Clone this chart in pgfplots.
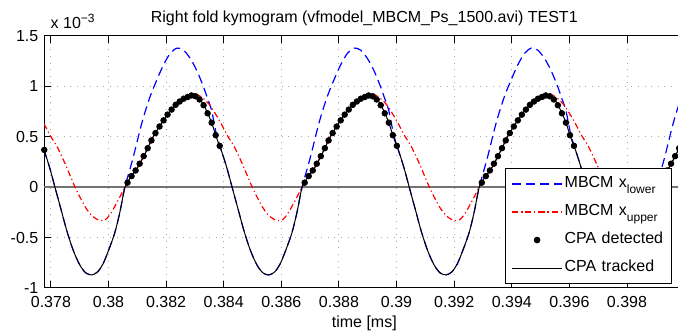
\documentclass[border=0pt]{standalone}
\usepackage{fontspec}
\setmainfont{Liberation Sans}
\usepackage{pgfplots}
\pgfplotsset{compat=1.18}
\newcommand{\ff}{\fontsize{8}{9.6}\selectfont}
\begin{document}
\ff
\begin{tikzpicture}
\begin{axis}[
  name=ax,
  scale only axis, width=320.3pt, height=126pt,
  at={(0,0)}, anchor=south west,
  xmin=0.37776, xmax=0.4, ymin=-1, ymax=1.5,
  xtick={0.378,0.38,0.382,0.384,0.386,0.388,0.39,0.392,0.394,0.396,0.398},
  ytick={-1,-0.5,0,0.5,1,1.5},
  scaled x ticks=false, scaled y ticks=false,
  /pgf/number format/assume math mode=true,
  x tick label style={/pgf/number format/.cd, fixed, precision=3, /tikz/.cd, anchor=base, yshift=-9.8pt},
  y tick label style={/pgf/number format/.cd, fixed, precision=1},
  tick label style={font=\ff},
  tick align=inside, major tick length=3.5pt,
  tick style={black, line width=0.5pt},
  grid=major,
  grid style={gray!70, line width=0.5pt, dash pattern=on 0.5pt off 2.8pt},
  axis line style={line width=0.5pt},
  title={Right fold kymogram (vfmodel\_MBCM\_Ps\_1500.avi) TEST1},
  every axis title/.style={at={(axis description cs:0.5,1)}, anchor=base, yshift=6.5pt, font=\ff},
  xlabel={time [ms]},
  every axis x label/.style={at={(axis description cs:0.5,0)}, anchor=base, yshift=-20pt, font=\ff},
  legend cell align=left,
  legend style={at={(0.7196,0.476)}, anchor=north west, draw=black, line width=0.5pt, fill=white,
    inner xsep=3pt, inner ysep=2.5pt, row sep=3.5pt, font=\ff,
    nodes={inner sep=1pt, text height=6pt, text depth=2.5pt, text width=49.6pt, align=left}},
  legend image code/.code={\draw[mark repeat=2, mark phase=2, #1] plot coordinates {(0pt,0pt) (12.5pt,0pt) (25pt,0pt)};},
]
\addplot[black!55, line width=0.75pt, forget plot] coordinates {(0.37776,0) (0.4,0)};

\addplot[blue, line width=0.6pt, dash pattern=on 4.5pt off 2.5pt, smooth] coordinates {
(0.37776,0.37) (0.37795,0.20) (0.37814,0.00) (0.37835,-0.22) (0.37856,-0.44) (0.37878,-0.63) (0.37900,-0.77) (0.37921,-0.85) (0.37942,-0.87) (0.37962,-0.84) (0.37981,-0.76) (0.38001,-0.62) (0.38022,-0.45) (0.38040,-0.24) (0.38057,0.00) (0.38086,0.30) (0.38115,0.63) (0.38142,0.88) (0.38167,1.06) (0.38192,1.22) (0.38215,1.33) (0.38238,1.38) (0.38260,1.36) (0.38283,1.28) (0.38306,1.16) (0.38329,1.00) (0.38345,0.87) (0.38358,0.76) (0.38375,0.52)
(0.38391,0.37) (0.38410,0.20) (0.38429,0.00) (0.38450,-0.22) (0.38471,-0.44) (0.38493,-0.63) (0.38515,-0.77) (0.38536,-0.85) (0.38557,-0.87) (0.38577,-0.84) (0.38596,-0.76) (0.38616,-0.62) (0.38637,-0.45) (0.38655,-0.24) (0.38672,0.00) (0.38701,0.30) (0.38730,0.63) (0.38757,0.88) (0.38782,1.06) (0.38807,1.22) (0.38830,1.33) (0.38853,1.38) (0.38875,1.36) (0.38898,1.28) (0.38921,1.16) (0.38944,1.00) (0.38960,0.87) (0.38973,0.76) (0.38990,0.52)
(0.39006,0.37) (0.39025,0.20) (0.39044,0.00) (0.39065,-0.22) (0.39086,-0.44) (0.39108,-0.63) (0.39130,-0.77) (0.39151,-0.85) (0.39172,-0.87) (0.39192,-0.84) (0.39211,-0.76) (0.39231,-0.62) (0.39252,-0.45) (0.39270,-0.24) (0.39287,0.00) (0.39316,0.30) (0.39345,0.63) (0.39372,0.88) (0.39397,1.06) (0.39422,1.22) (0.39445,1.33) (0.39468,1.38) (0.39490,1.36) (0.39513,1.28) (0.39536,1.16) (0.39559,1.00) (0.39575,0.87) (0.39588,0.76) (0.39605,0.52)
(0.39621,0.37) (0.39640,0.20) (0.39659,0.00) (0.39680,-0.22) (0.39701,-0.44) (0.39723,-0.63) (0.39745,-0.77) (0.39766,-0.85) (0.39787,-0.87) (0.39807,-0.84) (0.39826,-0.76) (0.39846,-0.62) (0.39867,-0.45) (0.39885,-0.24) (0.39902,0.00) (0.39931,0.30) (0.39960,0.63) (0.39987,0.88) (0.40012,1.06)
};
\addlegendentry{MBCM x\raisebox{-2.8pt}{\fontsize{6}{7}\selectfont lower}}

\addplot[red, line width=0.6pt, dash pattern=on 3pt off 1.5pt on 0.6pt off 1.5pt, smooth] coordinates {
(0.37776,0.63) (0.37800,0.50) (0.37820,0.41) (0.37849,0.235) (0.37884,0.00) (0.37919,-0.195) (0.37945,-0.29) (0.37970,-0.33) (0.37990,-0.32) (0.38010,-0.25) (0.38035,-0.12) (0.38057,0.00) (0.38075,0.09) (0.38100,0.19) (0.38128,0.34) (0.38155,0.50) (0.38183,0.63) (0.38210,0.74) (0.38237,0.83) (0.38262,0.88) (0.38288,0.91) (0.38305,0.92) (0.38325,0.89) (0.38350,0.82) (0.38375,0.71)
(0.38391,0.63) (0.38415,0.50) (0.38435,0.41) (0.38464,0.235) (0.38499,0.00) (0.38534,-0.195) (0.38560,-0.29) (0.38585,-0.33) (0.38605,-0.32) (0.38625,-0.25) (0.38650,-0.12) (0.38672,0.00) (0.38690,0.09) (0.38715,0.19) (0.38743,0.34) (0.38770,0.50) (0.38798,0.63) (0.38825,0.74) (0.38852,0.83) (0.38877,0.88) (0.38903,0.91) (0.38920,0.92) (0.38940,0.89) (0.38965,0.82) (0.38990,0.71)
(0.39006,0.63) (0.39030,0.50) (0.39050,0.41) (0.39079,0.235) (0.39114,0.00) (0.39149,-0.195) (0.39175,-0.29) (0.39200,-0.33) (0.39220,-0.32) (0.39240,-0.25) (0.39265,-0.12) (0.39287,0.00) (0.39305,0.09) (0.39330,0.19) (0.39358,0.34) (0.39385,0.50) (0.39413,0.63) (0.39440,0.74) (0.39467,0.83) (0.39492,0.88) (0.39518,0.91) (0.39535,0.92) (0.39555,0.89) (0.39580,0.82) (0.39605,0.71)
(0.39621,0.63) (0.39645,0.50) (0.39665,0.41) (0.39694,0.235) (0.39729,0.00) (0.39764,-0.195) (0.39790,-0.29) (0.39815,-0.33) (0.39835,-0.32) (0.39855,-0.25) (0.39880,-0.12) (0.39902,0.00) (0.39920,0.09) (0.39945,0.19) (0.39973,0.34) (0.40000,0.50)
};
\addlegendentry{MBCM x\raisebox{-2.8pt}{\fontsize{6}{7}\selectfont upper}}

\addplot[only marks, mark=*, mark size=1.4pt, black] coordinates {
(0.37777,0.37)
(0.38066,0.045) (0.38080,0.11) (0.38094,0.166) (0.38108,0.233) (0.38122,0.308) (0.38136,0.387) (0.38149,0.464) (0.38163,0.537) (0.38177,0.602) (0.38191,0.663) (0.38205,0.72) (0.38219,0.77) (0.38233,0.817) (0.38247,0.85) (0.38261,0.878) (0.38275,0.895) (0.38288,0.91) (0.38302,0.902) (0.38316,0.87) (0.38330,0.813) (0.38344,0.733) (0.38358,0.64) (0.38372,0.516) (0.38386,0.41)
(0.38681,0.045) (0.38695,0.11) (0.38709,0.166) (0.38723,0.233) (0.38737,0.308) (0.38751,0.387) (0.38764,0.464) (0.38778,0.537) (0.38792,0.602) (0.38806,0.663) (0.38820,0.72) (0.38834,0.77) (0.38848,0.817) (0.38862,0.85) (0.38876,0.878) (0.38890,0.895) (0.38903,0.91) (0.38917,0.902) (0.38931,0.87) (0.38945,0.813) (0.38959,0.733) (0.38973,0.64) (0.38987,0.516) (0.39001,0.41)
(0.39296,0.045) (0.39310,0.11) (0.39324,0.166) (0.39338,0.233) (0.39352,0.308) (0.39366,0.387) (0.39379,0.464) (0.39393,0.537) (0.39407,0.602) (0.39421,0.663) (0.39435,0.72) (0.39449,0.77) (0.39463,0.817) (0.39477,0.85) (0.39491,0.878) (0.39505,0.895) (0.39518,0.91) (0.39532,0.902) (0.39546,0.87) (0.39560,0.813) (0.39574,0.733) (0.39588,0.64) (0.39602,0.516) (0.39616,0.41)
(0.39911,0.045) (0.39925,0.11) (0.39939,0.166) (0.39953,0.233) (0.39967,0.308) (0.39981,0.387)
};
\addlegendentry{CPA detected}

\addplot[black, line width=0.5pt, smooth] coordinates {
(0.37776,0.37) (0.37795,0.20) (0.37814,0.00) (0.37835,-0.22) (0.37856,-0.44) (0.37878,-0.63) (0.37900,-0.77) (0.37921,-0.85) (0.37942,-0.87) (0.37962,-0.84) (0.37981,-0.76) (0.38001,-0.62) (0.38022,-0.45) (0.38040,-0.24) (0.38057,0.00) (0.38075,0.09) (0.38100,0.19) (0.38128,0.34) (0.38155,0.50) (0.38183,0.63) (0.38210,0.74) (0.38237,0.83) (0.38262,0.88) (0.38288,0.91) (0.38305,0.90) (0.38323,0.85) (0.38340,0.76) (0.38358,0.64) (0.38375,0.49)
(0.38391,0.37) (0.38410,0.20) (0.38429,0.00) (0.38450,-0.22) (0.38471,-0.44) (0.38493,-0.63) (0.38515,-0.77) (0.38536,-0.85) (0.38557,-0.87) (0.38577,-0.84) (0.38596,-0.76) (0.38616,-0.62) (0.38637,-0.45) (0.38655,-0.24) (0.38672,0.00) (0.38690,0.09) (0.38715,0.19) (0.38743,0.34) (0.38770,0.50) (0.38798,0.63) (0.38825,0.74) (0.38852,0.83) (0.38877,0.88) (0.38903,0.91) (0.38920,0.90) (0.38938,0.85) (0.38955,0.76) (0.38973,0.64) (0.38990,0.49)
(0.39006,0.37) (0.39025,0.20) (0.39044,0.00) (0.39065,-0.22) (0.39086,-0.44) (0.39108,-0.63) (0.39130,-0.77) (0.39151,-0.85) (0.39172,-0.87) (0.39192,-0.84) (0.39211,-0.76) (0.39231,-0.62) (0.39252,-0.45) (0.39270,-0.24) (0.39287,0.00) (0.39305,0.09) (0.39330,0.19) (0.39358,0.34) (0.39385,0.50) (0.39413,0.63) (0.39440,0.74) (0.39467,0.83) (0.39492,0.88) (0.39518,0.91) (0.39535,0.90) (0.39553,0.85) (0.39570,0.76) (0.39588,0.64) (0.39605,0.49)
(0.39621,0.37) (0.39640,0.20) (0.39659,0.00) (0.39680,-0.22) (0.39701,-0.44) (0.39723,-0.63) (0.39745,-0.77) (0.39766,-0.85) (0.39787,-0.87) (0.39807,-0.84) (0.39826,-0.76) (0.39846,-0.62) (0.39867,-0.45) (0.39885,-0.24) (0.39902,0.00) (0.39920,0.09) (0.39945,0.19) (0.39973,0.34) (0.40000,0.50)
};
\addlegendentry{CPA tracked}
\end{axis}
\node[anchor=base west, font=\ff] at ([xshift=0.5pt, yshift=3.9pt]ax.north west) {x 10\textsuperscript{−3}};
\pgfresetboundingbox
\useasboundingbox (-22pt,-23.5pt) rectangle (317pt,144pt);
\end{tikzpicture}
\end{document}
